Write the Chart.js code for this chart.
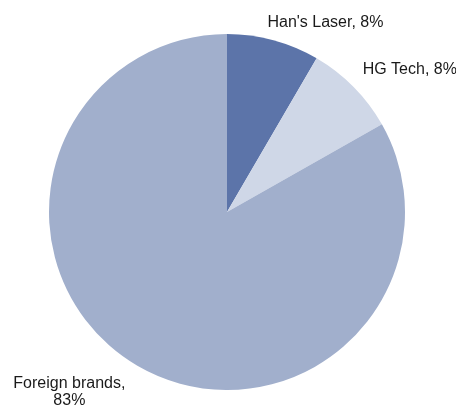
<!DOCTYPE html>
<html>
<head>
<meta charset="utf-8">
<script src="https://cdn.jsdelivr.net/npm/chart.js@4"></script>
<style>
  html, body { margin: 0; padding: 0; background: #fff; }
  #wrap { width: 456px; height: 409px; position: relative; }
</style>
</head>
<body>
<div id="wrap"><canvas id="pieChart"></canvas></div>
<script>
// chart data
const categories = ["Han's Laser", 'HG Tech', 'Foreign brands'];
const shares = [8.4, 8.4, 83.2];
const shareLabels = ['8%', '8%', '83%'];
const sliceColors = ['#5c74a9', '#cfd7e7', '#a1afcc'];

// label placement relative to the slice's outer mid point
const labelStyle = [
    { dx: -6, dy: -18, align: 'left', lines: [categories[0] + ', ' + shareLabels[0]] },
    { dx: 9, dy: -17, align: 'left', lines: [categories[1] + ', ' + shareLabels[1]] },
    { dx: -68, dy: 18, align: 'center', lines: [categories[2] + ',', shareLabels[2]] }
];

const outsideLabels = {
    id: 'outsideLabels',
    afterDraw(chart) {
        const ctx = chart.ctx;
        const arcs = chart.getDatasetMeta(0).data;
        ctx.save();
        ctx.font = '16px "Liberation Sans", Arial, sans-serif';
        ctx.fillStyle = '#1a1a1a';
        ctx.textBaseline = 'middle';
        arcs.forEach((arc, i) => {
            const p = arc.getProps(['x', 'y', 'startAngle', 'endAngle', 'outerRadius'], true);
            const mid = (p.startAngle + p.endAngle) / 2;
            const ax = p.x + Math.cos(mid) * p.outerRadius;
            const ay = p.y + Math.sin(mid) * p.outerRadius;
            const s = labelStyle[i];
            ctx.textAlign = s.align;
            s.lines.forEach((line, k) => {
                ctx.fillText(line, ax + s.dx, ay + s.dy + k * 17);
            });
        });
        ctx.restore();
    }
};

const ctx = document.getElementById('pieChart').getContext('2d');
new Chart(ctx, {
    type: 'pie',
    data: {
        labels: categories,
        datasets: [{
            data: shares,
            backgroundColor: sliceColors,
            borderWidth: 0
        }]
    },
    options: {
        responsive: true,
        maintainAspectRatio: false,
        animation: false,
        layout: {
            padding: { top: 34, bottom: 19, left: 49, right: 51 }
        },
        plugins: {
            legend: { display: false },
            tooltip: { enabled: false }
        }
    },
    plugins: [outsideLabels]
});
</script>
</body>
</html>
